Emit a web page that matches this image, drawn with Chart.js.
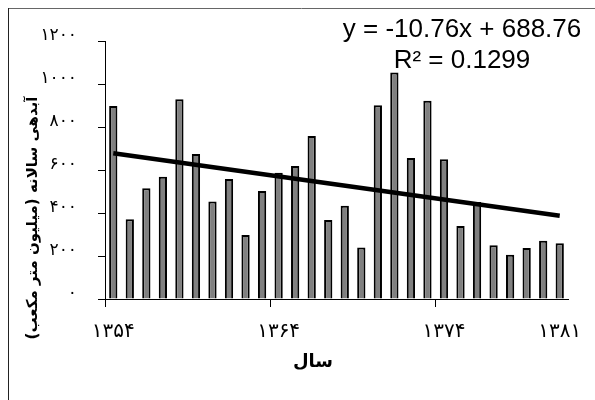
<!DOCTYPE html>
<html>
<head>
<meta charset="utf-8">
<script src="https://cdn.jsdelivr.net/npm/chart.js@4/dist/chart.umd.min.js"></script>
<style>
  html, body { margin: 0; padding: 0; background: #fff; overflow: hidden; }
  #wrap { position: relative; width: 595px; height: 400px; }
</style>
</head>
<body>
<div id="wrap"><canvas id="grafico" width="595" height="400"></canvas></div>
<script>
// Datos
const years = ['1354','1355','1356','1357','1358','1359','1360','1361','1362','1363',
               '1364','1365','1366','1367','1368','1369','1370','1371','1372','1373',
               '1374','1375','1376','1377','1378','1379','1380','1381'];
const flow = [898, 371, 515, 569, 929, 674, 453, 558, 298, 502,
              587, 619, 758, 367, 434, 239, 901, 1054, 656, 922,
              650, 340, 451, 250, 206, 237, 271, 259];
// linea de tendencia: valores en el primer y ultimo año
const trendEnds = [677.9, 387.5];
const xLabels = { 0: '۱۳۵۴', 10: '۱۳۶۴', 20: '۱۳۷۴', 27: '۱۳۸۱' };
const yTickLabels = ['۰', '۲۰۰', '۴۰۰', '۶۰۰', '۸۰۰', '۱۰۰۰', '۱۲۰۰'];

const trend = years.map((y, i) => i === 0 ? trendEnds[0] : (i === years.length - 1 ? trendEnds[1] : null));

const FA = '"DejaVu Sans", sans-serif';

// textos extra: ecuacion, titulos de ejes y marco
const extras = {
  id: 'extras',
  afterDraw(chart){
    const ctx = chart.ctx;
    ctx.save();
    // marco
    ctx.lineWidth = 1;
    ctx.strokeStyle = '#666';
    ctx.beginPath(); ctx.moveTo(8, 8.5); ctx.lineTo(595, 8.5); ctx.stroke();
    ctx.strokeStyle = '#222';
    ctx.beginPath(); ctx.moveTo(8.5, 8); ctx.lineTo(8.5, 400); ctx.stroke();

    // ecuacion
    ctx.fillStyle = '#000';
    ctx.textAlign = 'center';
    ctx.textBaseline = 'alphabetic';
    ctx.font = '26px "Liberation Sans", Arial, sans-serif';
    ctx.fillText('y = -10.76x + 688.76', 462, 37);
    ctx.fillText('R² = 0.1299', 462, 68);

    // titulo eje x
    ctx.direction = 'rtl';
    ctx.font = 'bold 18px ' + FA;
    ctx.textBaseline = 'middle';
    ctx.fillText('سال', 313, 362);

    // titulo eje y
    ctx.translate(33, 218);
    ctx.rotate(-Math.PI / 2);
    ctx.font = 'bold 15px ' + FA;
    ctx.fillText('آبدهی سالانه (میلیون متر مکعب)', 0, 0);
    ctx.restore();
  }
};

new Chart(document.getElementById('grafico'), {
  data: {
    labels: years,
    datasets: [
      {
        type: 'line',
        data: trend,
        borderColor: '#000',
        borderWidth: 4.5,
        pointRadius: 0,
        spanGaps: true,
        order: 0
      },
      {
        type: 'bar',
        data: flow,
        backgroundColor: '#808080',
        borderColor: '#000',
        borderWidth: 2,
        barPercentage: 0.5,
        categoryPercentage: 1,
        order: 1
      }
    ]
  },
  options: {
    responsive: false,
    animation: false,
    layout: { padding: { top: 41, right: 27, left: 0, bottom: 0 } },
    plugins: { legend: { display: false }, tooltip: { enabled: false } },
    scales: {
      x: {
        offset: true,
        afterFit(s){ s.height = 101; },
        border: { color: '#000', width: 1 },
        grid: {
          offset: true,
          drawOnChartArea: false,
          tickLength: 8,
          color: c => (c.index % 10 === 0 ? '#000' : 'rgba(0,0,0,0)')
        },
        ticks: {
          autoSkip: false,
          maxRotation: 0,
          padding: 13,
          color: '#000',
          font: { family: FA, size: 20 },
          callback: (v, i) => xLabels[i] || ''
        }
      },
      y: {
        min: 0,
        max: 1200,
        afterFit(s){ s.width = 105; },
        border: { color: '#000', width: 1 },
        grid: { drawOnChartArea: false, tickLength: 7, color: '#000' },
        ticks: {
          stepSize: 200,
          padding: 21,
          labelOffset: -5,
          color: '#000',
          font: { family: FA, size: 17 },
          callback: v => yTickLabels[v / 200]
        }
      }
    }
  },
  plugins: [extras]
});
</script>
</body>
</html>
